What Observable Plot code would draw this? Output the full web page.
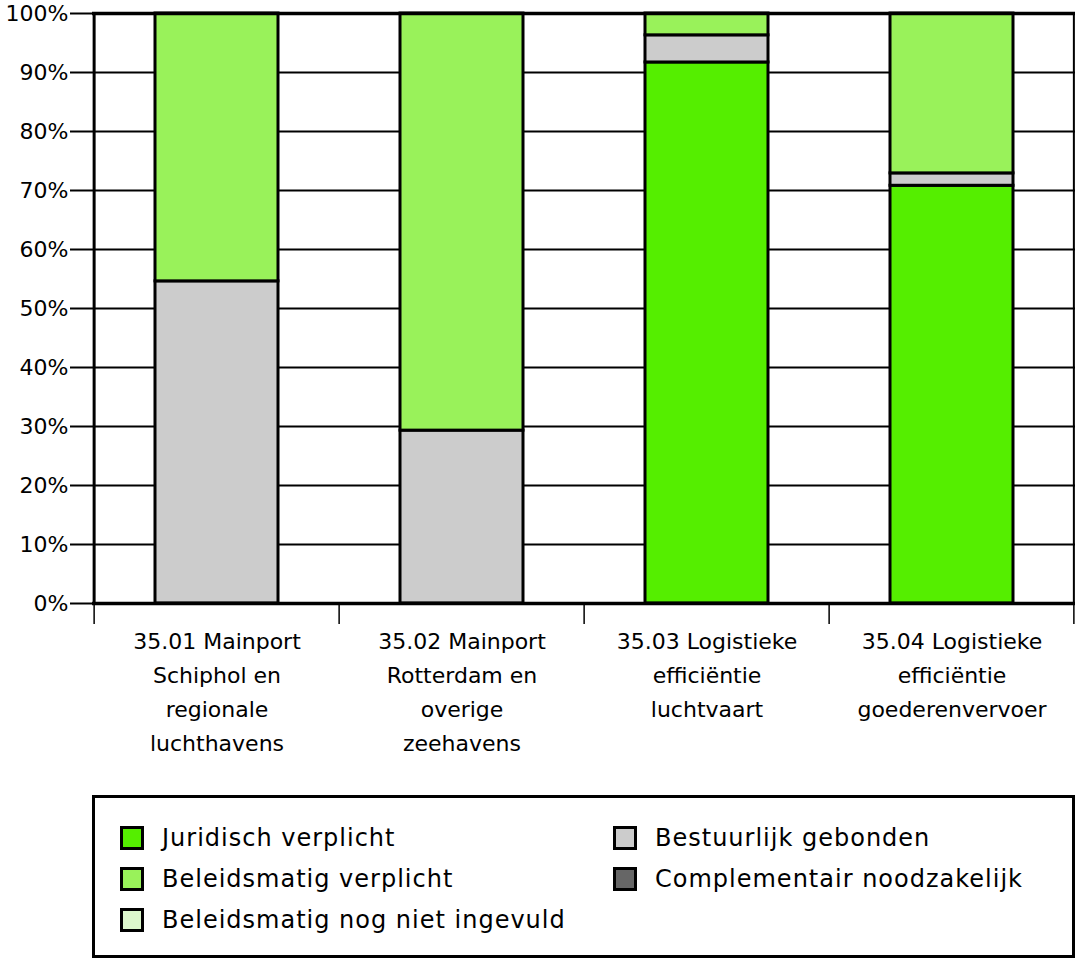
<!DOCTYPE html>
<html>
<head>
<meta charset="utf-8">
<script src="https://cdn.jsdelivr.net/npm/d3@7"></script>
<script src="https://cdn.jsdelivr.net/npm/@observablehq/plot@0.6"></script>
<style>
  body { margin: 0; background: #fff; font-family: "DejaVu Sans", sans-serif; }
  #wrap { position: relative; width: 1078px; height: 961px; }
  #legend { position: absolute; left: 92px; top: 795px; width: 977px; height: 157px;
            border: 3px solid #000; font-size: 24px; letter-spacing: 1px; color: #000; }
  .item { position: absolute; display: flex; align-items: center; height: 30px; }
  .sw { width: 18px; height: 18px; border: 3px solid #000; margin-right: 18px; box-sizing: content-box; }
</style>
</head>
<body>
<div id="wrap">
  <div id="chart"></div>
  <div id="legend"></div>
</div>
<script>
const categories = [
  "35.01 Mainport\nSchiphol en\nregionale\nluchthavens",
  "35.02 Mainport\nRotterdam en\noverige\nzeehavens",
  "35.03 Logistieke\nefficiëntie\nluchtvaart",
  "35.04 Logistieke\nefficiëntie\ngoederenvervoer"
];
const seriesNames = [
  "Juridisch verplicht",
  "Complementair noodzakelijk",
  "Bestuurlijk gebonden",
  "Beleidsmatig nog niet ingevuld",
  "Beleidsmatig verplicht"
];
const seriesColors = ["#55ee00", "#666666", "#cccccc", "#ddf8cc", "#99f25a"];
const juridisch     = [0,    0,    91.7, 70.8];
const complementair = [0,    0,    0,    0];
const bestuurlijk   = [54.6, 29.3, 4.6,  2.1];
const nogNiet       = [0,    0,    0,    0];
const beleidsmatig  = [45.4, 70.7, 3.7,  27.1];
const yTicks = [0, 10, 20, 30, 40, 50, 60, 70, 80, 90, 100];

const values = [juridisch, complementair, bestuurlijk, nogNiet, beleidsmatig];
const rows = [];
categories.forEach((c, i) => seriesNames.forEach((s, j) => {
  if (values[j][i] > 0) rows.push({cat: c, series: s, value: values[j][i]});
}));

const W = 1078, H = 780, mL = 92, mR = 3, mT = 13, mB = 177;
const bw = (W - mL - mR) / categories.length;

const chart = Plot.plot({
  width: W, height: H,
  marginLeft: mL, marginRight: mR, marginTop: mT, marginBottom: mB,
  style: {fontFamily: "DejaVu Sans, sans-serif", background: "#fff"},
  x: {domain: categories, paddingInner: 0.5, paddingOuter: 0.25, axis: null, label: null},
  y: {domain: [0, 100], axis: null, label: null},
  color: {domain: seriesNames, range: seriesColors},
  marks: [
    Plot.ruleY(yTicks.slice(1, -1), {stroke: "#000", strokeWidth: 2}),
    Plot.barY(rows, {x: "cat", y: "value", fill: "series", stroke: "#000", strokeWidth: 3,
      order: seriesNames}),
    Plot.ruleY([0, 100], {stroke: "#000", strokeWidth: 3.5}),
    Plot.axisY({ticks: yTicks, tickSize: 22, tickPadding: 2, tickFormat: d => d + "%", label: null,
      fontSize: 22, stroke: "#000", strokeWidth: 2, color: "#000"}),
    Plot.ruleX([categories[0]], {dx: -bw / 2, stroke: "#000", strokeWidth: 3}),
    Plot.ruleX([categories[categories.length - 1]], {dx: bw / 2 - 1, stroke: "#000", strokeWidth: 2}),
    Plot.axisX({ticks: categories, tickSize: 21, text: null, label: null, dx: -bw / 2, strokeWidth: 1.5, stroke: "#000"}),
    Plot.axisX({ticks: [categories[categories.length - 1]], tickSize: 21, text: null, label: null, dx: bw / 2 - 1, strokeWidth: 1.5, stroke: "#000"}),
    Plot.text(categories, {x: d => d, y: () => 0, text: d => d, lineAnchor: "top", dy: 21,
      fontSize: 22, lineHeight: 1.55, fill: "#000"})
  ]
});
document.getElementById("chart").appendChild(chart);

// Legend
const legendLayout = [
  {name: "Juridisch verplicht", left: 25, top: 25},
  {name: "Beleidsmatig verplicht", left: 25, top: 66},
  {name: "Beleidsmatig nog niet ingevuld", left: 25, top: 107},
  {name: "Bestuurlijk gebonden", left: 518, top: 25},
  {name: "Complementair noodzakelijk", left: 518, top: 66}
];
const legend = document.getElementById("legend");
legendLayout.forEach(l => {
  const color = seriesColors[seriesNames.indexOf(l.name)];
  const it = document.createElement("div");
  it.className = "item";
  it.style.left = l.left + "px";
  it.style.top = l.top + "px";
  it.innerHTML = `<div class="sw" style="background:${color}"></div><span>${l.name}</span>`;
  legend.appendChild(it);
});
</script>
</body>
</html>
